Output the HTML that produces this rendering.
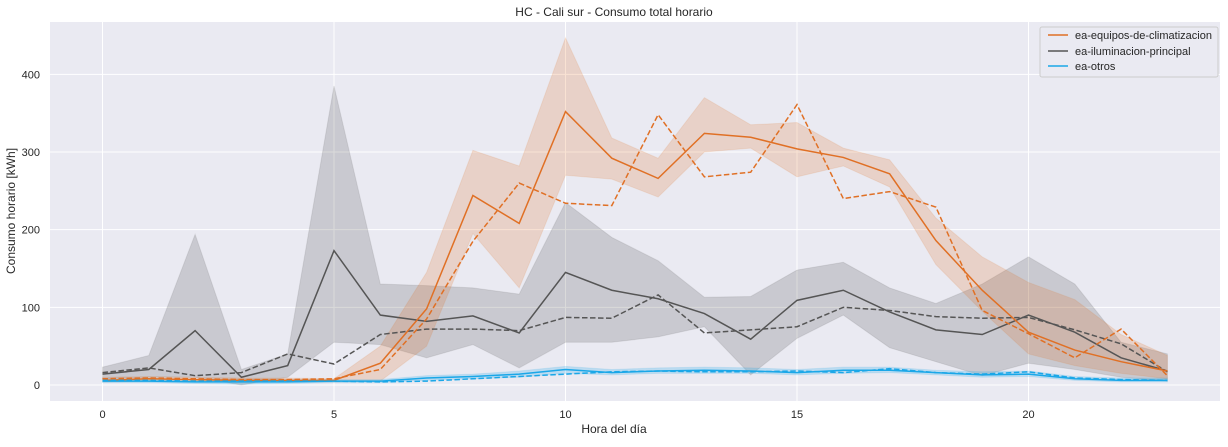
<!DOCTYPE html>
<html><head><meta charset="utf-8"><style>
body{margin:0;background:#fff;font-family:"Liberation Sans",sans-serif}
svg text{font-family:"Liberation Sans",sans-serif;fill:#262626}
</style></head><body>
<svg id="chart" width="1228" height="442" xmlns="http://www.w3.org/2000/svg">
<text x="614" y="16" font-size="12" text-anchor="middle">HC - Cali sur - Consumo total horario</text>
<rect x="50" y="22" width="1170" height="379" fill="#eaeaf2"/>
<g id="grid"></g><g id="bands"></g><g id="lines"></g><g id="ticks"></g>
<text x="614" y="433" font-size="12" text-anchor="middle">Hora del día</text>
<text x="15" y="211" font-size="12" text-anchor="middle" transform="rotate(-90 15 211)">Consumo horario [kWh]</text>
<g>
<rect x="1040" y="27" width="178" height="50" fill="#eaeaf2" stroke="#ccc" rx="2"/>
<line x1="1048" y1="35" x2="1068" y2="35" stroke="#e07025" stroke-width="1.5"/>
<text x="1075" y="39" font-size="11">ea-equipos-de-climatizacion</text>
<line x1="1048" y1="51" x2="1068" y2="51" stroke="#555" stroke-width="1.5"/>
<text x="1075" y="55" font-size="11">ea-iluminacion-principal</text>
<line x1="1048" y1="66" x2="1068" y2="66" stroke="#1aa7e8" stroke-width="1.5"/>
<text x="1075" y="70" font-size="11">ea-otros</text>
</g>
</svg>
<script>
const hours=[...Array(24).keys()];
const xTicks=[0,5,10,15,20];
const yTicks=[0,100,200,300,400];
const climaSolid=[6,8,7,6,6,6,28,98,244,208,352,292,266,324,319,304,293,272,186,122,68,45,30,18];
const climaDashed=[8,9,8,7,7,8,20,85,185,260,234,231,348,268,274,361,240,249,229,96,66,35,72,12];
const climaLow=[4,5,5,4,4,4,5,50,195,125,270,265,242,300,305,268,282,255,155,95,40,25,15,8];
const climaHigh=[10,11,10,9,9,8,50,145,302,282,447,318,292,370,335,338,305,290,215,165,132,110,65,38];
const ilumSolid=[14,20,70,10,25,173,90,82,89,67,145,122,111,92,59,109,122,94,71,65,90,68,35,18];
const ilumDashed=[16,22,12,16,40,27,65,72,72,70,87,86,116,67,71,75,100,96,88,86,87,71,53,17];
const ilumLow=[8,10,10,0,10,55,52,35,52,22,55,55,62,75,13,60,90,48,30,12,28,20,10,5];
const ilumHigh=[23,38,194,20,40,385,130,128,125,117,235,190,160,113,114,148,158,125,105,130,165,130,55,40];
const otrosSolid=[5,5,4,4,4,5,5,9,11,14,20,16,18,19,18,16,19,19,16,13,14,8,6,6];
const otrosDashed=[6,6,5,5,5,5,4,5,8,11,14,17,18,17,17,18,16,21,16,14,17,9,7,6];
const otrosLow=[3,3,2,1,2,3,3,6,8,10,15,13,15,15,15,13,15,16,13,10,11,6,4,4];
const otrosHigh=[8,8,7,7,7,7,7,12,14,18,24,20,22,23,22,20,23,23,19,17,18,11,9,9];
const X=h=>102.5+h*46.3, Y=v=>385-v*0.7767;
const NS='http://www.w3.org/2000/svg';
function mk(tag,attrs,parent){const e=document.createElementNS(NS,tag);for(const k in attrs)e.setAttribute(k,attrs[k]);document.getElementById(parent).appendChild(e);return e;}
xTicks.forEach(t=>{
 const l=mk('line',{x1:X(t),x2:X(t),y1:22,y2:401,stroke:'#fff','stroke-width':1},'grid');
 
 
 const tx=mk('text',{x:X(t),y:418,'font-size':11,'text-anchor':'middle'},'ticks');tx.textContent=t;
 
 
});
yTicks.forEach(t=>{
 const l=mk('line',{x1:50,x2:1220,y1:Y(t),y2:Y(t),stroke:'#fff','stroke-width':1},'grid');
 
 
 const tx=mk('text',{x:40,y:Y(t)+4,'font-size':11,'text-anchor':'end'},'ticks');tx.textContent=t;
 
 
});
function band(lo,hi,color,op,name){
 const pts=hours.map(h=>X(h)+','+Y(hi[h])).concat(hours.slice().reverse().map(h=>X(h)+','+Y(lo[h])));
 const p=mk('polygon',{points:pts.join(' '),fill:color,'fill-opacity':op,stroke:color,'stroke-opacity':0.12},'bands');
 
 
}
function line(vals,color,dash,name){
 const p=mk('polyline',{points:hours.map(h=>X(h)+','+Y(vals[h])).join(' '),fill:'none',stroke:color,'stroke-width':1.5,'stroke-dasharray':dash||'none'},'lines');
 
 
}
band(ilumLow,ilumHigh,'#555555',0.22,'iluminacion-band');
band(climaLow,climaHigh,'#e07025',0.2,'climatizacion-band');
band(otrosLow,otrosHigh,'#1aa7e8',0.22,'otros-band');
line(ilumSolid,'#555','', 'iluminacion-line');
line(ilumDashed,'#555','5.5,2.5','iluminacion-dashed-line');
line(climaSolid,'#e07025','','climatizacion-line');
line(climaDashed,'#e07025','5.5,2.5','climatizacion-dashed-line');
line(otrosSolid,'#1aa7e8','','otros-line');
line(otrosDashed,'#1aa7e8','5.5,2.5','otros-dashed-line');
</script>
</body></html>
